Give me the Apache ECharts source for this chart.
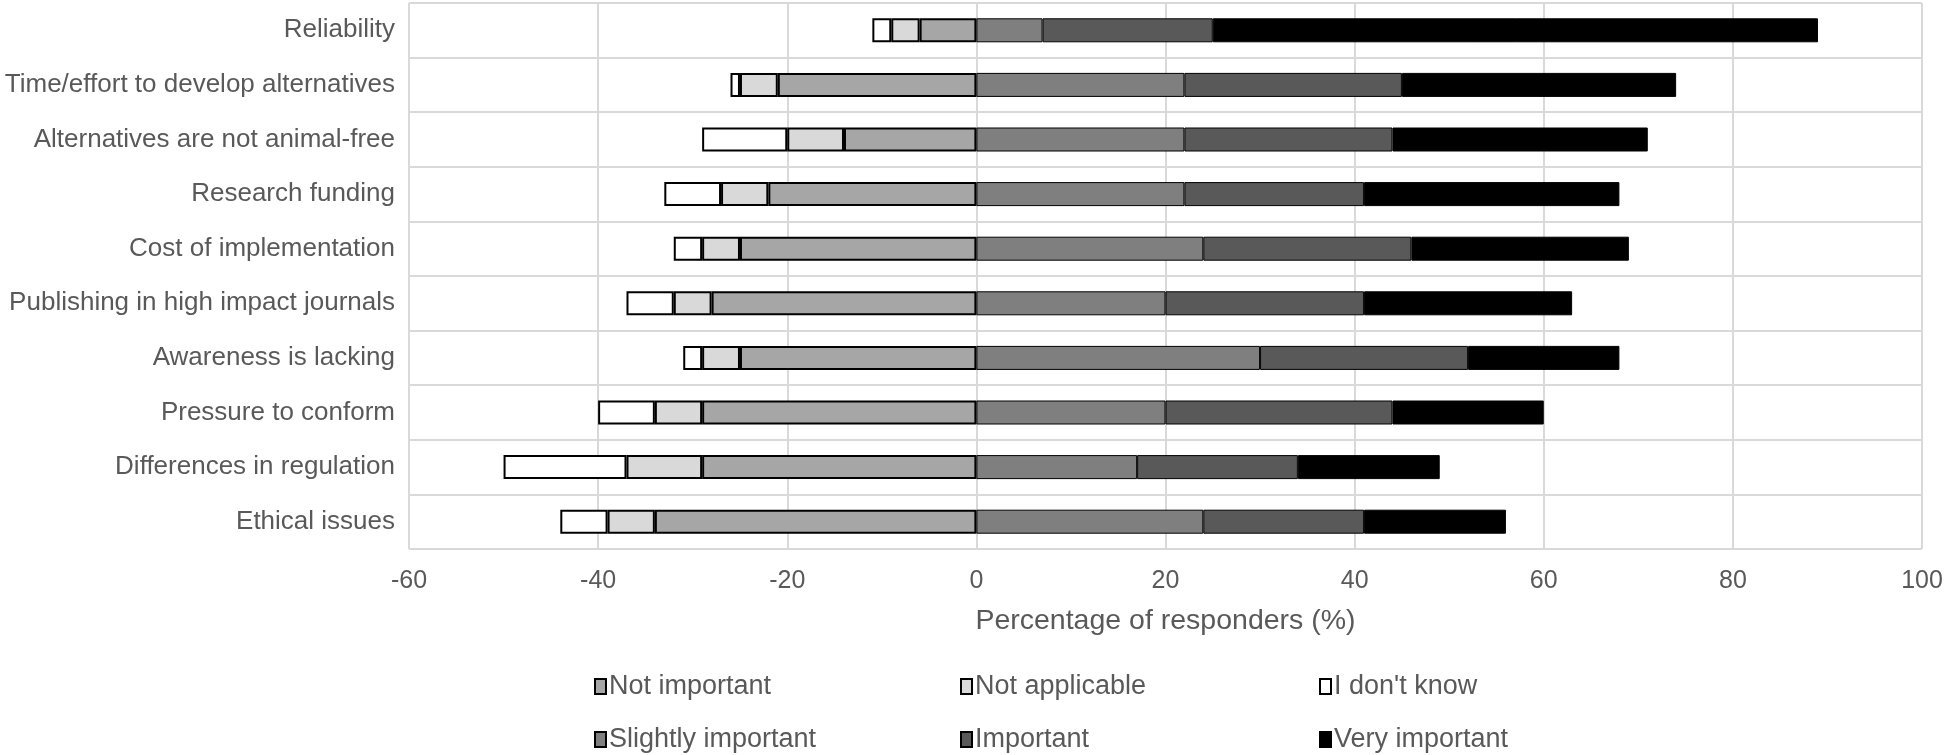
<!DOCTYPE html>
<html>
<head>
<meta charset="utf-8">
<script src="https://cdn.jsdelivr.net/npm/echarts@6/dist/echarts.min.js"></script>
<style>html,body{margin:0;padding:0;background:#fff;}#c{width:1946px;height:755px;}</style>
</head>
<body>
<div id="c"></div>
<script>
const categories = ["Reliability","Time/effort to develop alternatives","Alternatives are not animal-free","Research funding","Cost of implementation","Publishing in high impact journals","Awareness is lacking","Pressure to conform","Differences in regulation","Ethical issues"];
// negative side (plotted to the left of zero)
const notImportant   = [6, 21, 14, 22, 25, 28, 25, 29, 29, 34];
const notApplicable  = [3, 4, 6, 5, 4, 4, 4, 5, 8, 5];
const dontKnow       = [2, 1, 9, 6, 3, 5, 2, 6, 13, 5];
// positive side
const slightlyImportant = [7, 22, 22, 22, 24, 20, 30, 20, 17, 24];
const important         = [18, 23, 22, 19, 22, 21, 22, 24, 17, 17];
const veryImportant     = [64, 29, 27, 27, 23, 22, 16, 16, 15, 15];
const xTicks = {min: -60, max: 100, interval: 20};

const chart = echarts.init(document.getElementById('c'), null, {renderer: 'canvas'});
const txt = '#595959';
const FONT = 'Liberation Sans, Arial, sans-serif';
function mk(name, data, color, neg) {
  return {
    name: name, type: 'bar', stack: 'total', barWidth: 24,
    data: neg ? data.map(v => -v) : data,
    itemStyle: {color: color, borderColor: '#000', borderWidth: neg ? 2 : 1},
    emphasis: {disabled: true}
  };
}
const series = [
  mk('Not important', notImportant, '#a6a6a6', true),
  mk('Not applicable', notApplicable, '#d9d9d9', true),
  mk("I don't know", dontKnow, '#ffffff', true),
  mk('Slightly important', slightlyImportant, '#7f7f7f', false),
  mk('Important', important, '#595959', false),
  mk('Very important', veryImportant, '#000000', false)
];
const legendPos = [[594,673],[960,673],[1319,673],[594,726],[960,726],[1319,726]];
const legends = series.map((s, i) => ({
  data: [s.name], left: legendPos[i][0], top: legendPos[i][1], padding: 0,
  itemWidth: 11, itemHeight: 15, itemGap: 0, icon: 'rect',
  itemStyle: {borderColor: '#000', borderWidth: 2},
  textStyle: {fontSize: 27, color: txt, fontFamily: FONT, padding: [0,0,0,-2]},
  selectedMode: false
}));
chart.setOption({
  animation: false,
  textStyle: {fontFamily: FONT},
  grid: {left: 409, right: 24, top: 3, bottom: 206, containLabel: false},
  legend: legends,
  xAxis: {
    type: 'value', min: xTicks.min, max: xTicks.max, interval: xTicks.interval,
    axisLine: {show: false}, axisTick: {show: false},
    splitLine: {show: true, lineStyle: {color: '#d9d9d9', width: 2}},
    axisLabel: {fontSize: 25, color: txt, margin: 20, fontFamily: FONT},
    name: 'Percentage of responders (%)', nameLocation: 'middle', nameGap: 58,
    nameTextStyle: {fontSize: 28.5, color: txt, fontFamily: FONT}
  },
  yAxis: {
    type: 'category', inverse: true, data: categories,
    axisLine: {show: false}, axisTick: {show: false},
    splitLine: {show: true, interval: 0, lineStyle: {color: '#d9d9d9', width: 2}},
    axisLabel: {fontSize: 26, color: txt, margin: 14, fontFamily: FONT, interval: 0}
  },
  series: series
});
</script>
</body>
</html>
